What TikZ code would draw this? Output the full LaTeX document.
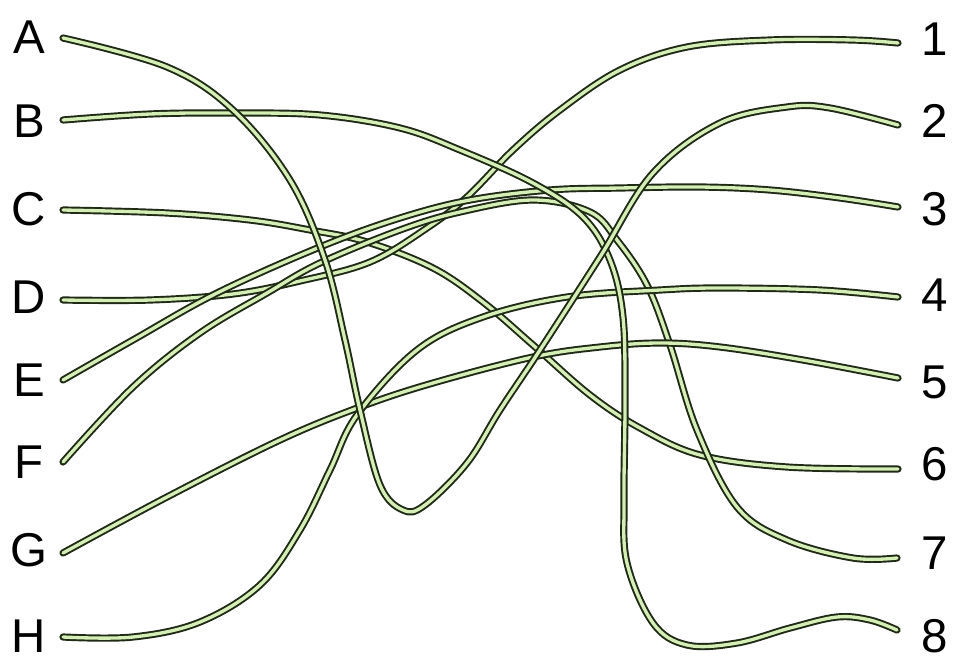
\documentclass[tikz,border=0pt]{standalone}
\usepackage{fontspec}
\setmainfont{Liberation Sans}
\usepackage{xcolor}
\usepackage{tikz}
\definecolor{cordedge}{RGB}{30,42,20}
\definecolor{cordfill}{RGB}{212,238,182}
\tikzset{
  cord/.style={draw=cordedge, line width=1.1pt, double=cordfill, double distance=1.9pt, line cap=round},
  tag/.style={inner sep=0pt, font=\fontsize{27}{30}\selectfont}
}

\begin{document}
\begin{tikzpicture}[x=0.02cm, y=-0.02cm]
      \useasboundingbox (0,0) rectangle (954,660);
      % labels
      \node[tag] (lA) at (29,37) {A};
      \node[tag] (lB) at (29,121) {B};
      \node[tag] (lC) at (29,209) {C};
      \node[tag] (lD) at (29,297) {D};
      \node[tag] (lE) at (29,380) {E};
      \node[tag] (lF) at (29,462) {F};
      \node[tag] (lG) at (29,550) {G};
      \node[tag] (lH) at (29,636) {H};

      \node[tag] (l1) at (935,39) {1};
      \node[tag] (l2) at (935,121) {2};
      \node[tag] (l3) at (935,209) {3};
      \node[tag] (l4) at (935,295) {4};
      \node[tag] (l5) at (935,382) {5};
      \node[tag] (l6) at (935,464) {6};
      \node[tag] (l7) at (935,553) {7};
      \node[tag] (l8) at (935,636) {8};

      % string ends
      \coordinate (a) at (63,38);
      \coordinate (b) at (63,120);
      \coordinate (c) at (63,210);
      \coordinate (d) at (63,300);
      \coordinate (e) at (63,380);
      \coordinate (f) at (63,462);
      \coordinate (g) at (63,553);
      \coordinate (h) at (63,637);

      \coordinate (n1) at (898,43);
      \coordinate (n2) at (898,125);
      \coordinate (n3) at (898,207);
      \coordinate (n4) at (898,297);
      \coordinate (n5) at (898,378);
      \coordinate (n6) at (898,469);
      \coordinate (n7) at (897,558);
      \coordinate (n8) at (897,630);

      % strings
      \draw[cord] plot[smooth, tension=0.6] coordinates {(c) (167,213) (250,220) (310,230) (367,242) (433,268) (483,302) (533,345) (590,395) (640,428) (700,455) (787,467) (n6)};
      \draw[cord] plot[smooth, tension=0.6] coordinates {(d) (150,300) (233,294) (300,281) (370,262) (427,228) (467,197) (513,150) (560,110) (620,70) (687,47) (770,40) (853,40) (n1)};
      \draw[cord] plot[smooth, tension=0.6] coordinates {(e) (133,340) (217,293) (320,247) (400,218) (470,200) (550,190) (620,188) (700,187) (770,190) (840,198) (n3)};
      \draw[cord] plot[smooth, tension=0.6] coordinates {(f) (133,387) (200,333) (267,293) (320,263) (400,230) (460,212) (533,200) (590,212) (617,240) (647,285) (670,345) (697,430) (737,507) (787,540) (853,558) (n7)};
      \draw[cord] plot[smooth, tension=0.6] coordinates {(g) (167,497) (280,440) (360,407) (433,383) (533,357) (600,347) (660,343) (720,347) (803,360) (n5)};
      \draw[cord] plot[smooth, tension=0.6] coordinates {(h) (133,637) (200,622) (260,585) (300,530) (330,470) (357,415) (417,350) (483,317) (567,297) (660,290) (720,288) (820,290) (n4)};
      \draw[cord] plot[smooth, tension=0.6] coordinates {(b) (150,114) (233,113) (320,115) (400,128) (460,150) (533,183) (583,217) (610,260) (623,317) (625,400) (624,500) (627,563) (653,623) (687,645) (737,643) (790,628) (837,617) (870,620) (n8)};
      \draw[cord] plot[smooth, tension=0.6] coordinates {(a) (167,67) (233,110) (290,180) (325,260) (345,340) (360,410) (380,485) (403,510) (425,505) (467,463) (500,410) (540,350) (600,257) (653,173) (720,123) (787,107) (830,108) (n2)};
\end{tikzpicture}
\end{document}
